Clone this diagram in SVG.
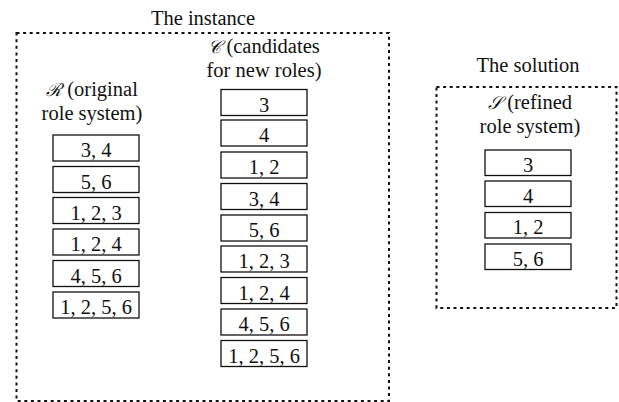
<svg xmlns="http://www.w3.org/2000/svg" width="619" height="402" viewBox="0 0 619 402">
  <style>
    text { font-family: "Liberation Serif", "Times New Roman", serif; font-size: 20.5px; fill: #111; text-anchor: middle; }
    .sym { font-family: "DejaVu Serif", serif; font-style: italic; font-size: 18px; }
    .frame { fill: none; stroke: #111; stroke-width: 2; stroke-dasharray: 3 3.6; }
    .cell rect { fill: #fff; stroke: #111; stroke-width: 1.3; }
  </style>

  <!-- instance panel -->
  <g id="instance">
    <text x="203" y="25">The instance</text>
    <rect class="frame" x="16.5" y="33" width="372.5" height="368"/>
  </g>

  <!-- solution panel -->
  <g id="solution">
    <text x="528" y="72">The solution</text>
    <rect class="frame" x="436.5" y="87" width="180" height="221"/>
  </g>

  <!-- R: original role system -->
  <g id="col-R">
    <text x="92" y="96"><tspan class="sym">ℛ</tspan> (original</text>
    <text x="92" y="120">role system)</text>
    <g class="cell" id="R1"><rect x="53" y="135" width="86" height="26"/><text x="96" y="157">3, 4</text></g>
    <g class="cell" id="R2"><rect x="53" y="166.5" width="86" height="26"/><text x="96" y="188.5">5, 6</text></g>
    <g class="cell" id="R3"><rect x="53" y="197.5" width="86" height="26"/><text x="96" y="219.5">1, 2, 3</text></g>
    <g class="cell" id="R4"><rect x="53" y="229" width="86" height="26"/><text x="96" y="251">1, 2, 4</text></g>
    <g class="cell" id="R5"><rect x="53" y="260.5" width="86" height="26"/><text x="96" y="282.5">4, 5, 6</text></g>
    <g class="cell" id="R6"><rect x="53" y="292" width="86" height="26"/><text x="96" y="314">1, 2, 5, 6</text></g>
  </g>

  <!-- C: candidates for new roles -->
  <g id="col-C">
    <text x="264" y="53"><tspan class="sym">𝒞</tspan> (candidates</text>
    <text x="264" y="77">for new roles)</text>
    <g class="cell" id="C1"><rect x="221" y="89.5" width="86" height="26"/><text x="264" y="111.5">3</text></g>
    <g class="cell" id="C2"><rect x="221" y="120" width="86" height="26"/><text x="264" y="142">4</text></g>
    <g class="cell" id="C3"><rect x="221" y="152" width="86" height="26"/><text x="264" y="174">1, 2</text></g>
    <g class="cell" id="C4"><rect x="221" y="183.5" width="86" height="26"/><text x="264" y="205.5">3, 4</text></g>
    <g class="cell" id="C5"><rect x="221" y="215" width="86" height="26"/><text x="264" y="237">5, 6</text></g>
    <g class="cell" id="C6"><rect x="221" y="246" width="86" height="26"/><text x="264" y="268">1, 2, 3</text></g>
    <g class="cell" id="C7"><rect x="221" y="277.5" width="86" height="26"/><text x="264" y="299.5">1, 2, 4</text></g>
    <g class="cell" id="C8"><rect x="221" y="309" width="86" height="26"/><text x="264" y="331">4, 5, 6</text></g>
    <g class="cell" id="C9"><rect x="221" y="340.5" width="86" height="26"/><text x="264" y="362.5">1, 2, 5, 6</text></g>
  </g>

  <!-- S: refined role system -->
  <g id="col-S">
    <text x="530" y="109"><tspan class="sym">𝒮</tspan> (refined</text>
    <text x="530" y="133">role system)</text>
    <g class="cell" id="S1"><rect x="485" y="150" width="86" height="25.5"/><text x="528" y="171.5">3</text></g>
    <g class="cell" id="S2"><rect x="485" y="181" width="86" height="25.5"/><text x="528" y="202.5">4</text></g>
    <g class="cell" id="S3"><rect x="485" y="212.5" width="86" height="25.5"/><text x="528" y="234">1, 2</text></g>
    <g class="cell" id="S4"><rect x="485" y="244" width="86" height="25.5"/><text x="528" y="265.5">5, 6</text></g>
  </g>

  <!-- no connectors in this figure -->
  <g id="connectors"/>
</svg>
